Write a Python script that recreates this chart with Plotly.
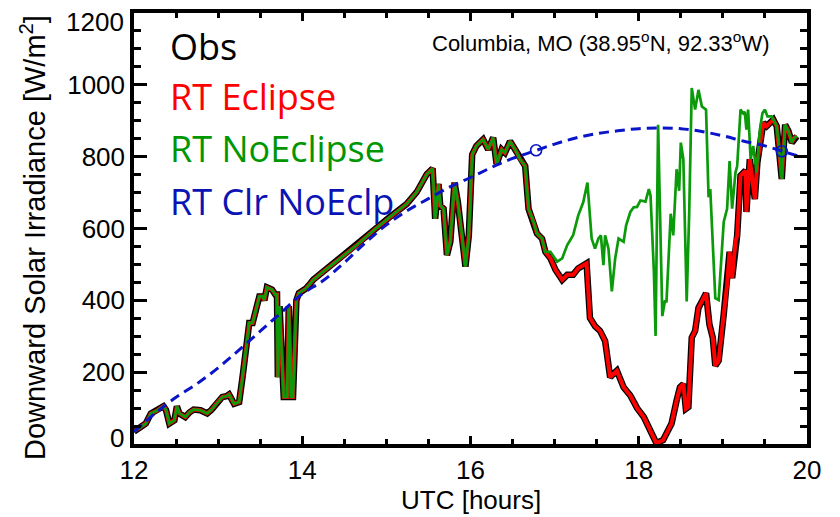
import plotly.graph_objects as go

# ---- data ----
# common part (Obs, RT Eclipse, RT NoEclipse coincide), UTC hours
t_pre = [12.00, 12.05, 12.10, 12.14, 12.20, 12.28, 12.35, 12.38, 12.42, 12.48, 12.51, 12.54,
         12.61, 12.66, 12.71, 12.79, 12.87, 12.92, 12.97, 13.05, 13.10, 13.13, 13.19, 13.25,
         13.29, 13.33, 13.37, 13.41, 13.45, 13.49, 13.53, 13.55, 13.58, 13.64, 13.68, 13.70,
         13.71, 13.73, 13.78, 13.82, 13.84, 13.87, 13.89, 13.93, 13.96, 14.04, 14.10, 14.13,
         14.25, 14.45, 14.65, 14.85, 15.04, 15.24, 15.36, 15.48, 15.55, 15.58, 15.62, 15.64,
         15.68, 15.72, 15.76, 15.81, 15.85, 15.90, 15.94, 15.98, 16.02, 16.07, 16.15, 16.21,
         16.27, 16.31, 16.37, 16.41, 16.47, 16.53, 16.59, 16.65, 16.69, 16.75, 16.79, 16.85,
         16.89]
v_pre = [35, 42, 50, 57, 85, 94, 105, 95, 57, 66, 105, 85,
         75, 88, 96, 94, 85, 95, 110, 131, 133, 138, 112, 117,
         186, 268, 337, 337, 374, 411, 411, 400, 436, 430, 416, 416,
         186, 384, 131, 131, 384, 131, 131, 400, 420, 432, 448, 457,
         480, 517, 554, 595, 632, 668, 701, 751, 767, 627, 724, 664,
         655, 526, 563, 728, 673, 581, 494, 581, 806, 830, 848, 820,
         853, 779, 820, 811, 843, 820, 793, 774, 655, 618, 586, 572,
         535]

# RT Eclipse (and Obs) after divergence
t_ecl = [16.95, 17.01, 17.09, 17.15, 17.22, 17.28, 17.38, 17.42, 17.48, 17.54, 17.60, 17.64,
         17.66, 17.74, 17.82, 17.90, 17.98, 18.06, 18.14, 18.21, 18.29, 18.39, 18.45, 18.49,
         18.53, 18.56, 18.59, 18.63, 18.67, 18.71, 18.77, 18.80, 18.84, 18.88, 18.91, 18.95,
         19.01, 19.05, 19.08, 19.11, 19.15, 19.17, 19.21, 19.27, 19.28, 19.32, 19.36, 19.38,
         19.41, 19.45, 19.48, 19.52, 19.60, 19.64, 19.67, 19.70, 19.74, 19.78, 19.82, 19.85,
         19.88]
v_ecl = [517, 485, 457, 471, 471, 489, 503, 351, 328, 315, 287, 223,
         186, 204, 158, 135, 100, 75, 35, 2, 11, 57, 121, 158,
         167, 98, 103, 296, 315, 379, 406, 420, 333, 296, 218, 232,
         361, 443, 535, 462, 563, 581, 747, 761, 646, 793, 719, 682,
         784, 839, 894, 885, 903, 885, 820, 738, 889, 871, 839, 853,
         857]

# RT NoEclipse after divergence
t_noe = [16.95, 17.03, 17.09, 17.15, 17.22, 17.28, 17.34, 17.39, 17.44, 17.48, 17.52, 17.55,
         17.58, 17.60, 17.64, 17.68, 17.72, 17.76, 17.82, 17.85, 17.90, 17.94, 17.98, 18.02,
         18.08, 18.12, 18.14, 18.18, 18.20, 18.23, 18.28, 18.31, 18.33, 18.38, 18.41, 18.45,
         18.48, 18.50, 18.53, 18.57, 18.60, 18.63, 18.67, 18.71, 18.75, 18.80, 18.83, 18.85,
         18.91, 18.95, 19.01, 19.05, 19.08, 19.11, 19.15, 19.17, 19.21, 19.24, 19.26, 19.28,
         19.30, 19.33, 19.36, 19.40, 19.44, 19.47, 19.50, 19.53, 19.58, 19.60, 19.64, 19.67,
         19.70, 19.74, 19.78, 19.82, 19.85, 19.88]
v_noe = [535, 508, 517, 554, 581, 636, 673, 728, 572, 544, 572, 581,
         498, 581, 544, 425, 517, 572, 563, 609, 646, 659, 660, 678,
         675, 710, 692, 480, 301, 889, 356, 397, 397, 641, 581, 765,
         705, 839, 793, 397, 646, 991, 931, 986, 940, 931, 687, 710,
         406, 401, 618, 655, 788, 655, 756, 774, 931, 921, 925, 875,
         931, 793, 830, 756, 875, 921, 931, 912, 912, 903, 885, 820,
         738, 889, 871, 839, 853, 857]

# RT clear-sky, no eclipse
t_clr = [12.00, 12.25, 12.50, 12.75, 13.00, 13.25, 13.50, 13.75, 14.00, 14.25, 14.50, 14.75,
         15.00, 15.25, 15.50, 15.75, 16.00, 16.25, 16.50, 16.75, 17.00, 17.25, 17.50, 17.75,
         18.00, 18.25, 18.50, 18.75, 19.00, 19.25, 19.50, 19.75, 19.92]
v_clr = [34, 85, 130, 168, 212, 262, 314, 366, 418, 455, 505, 560,
         610, 650, 683, 715, 742, 770, 795, 815, 835, 852, 864, 872,
         878, 880, 878, 870, 858, 843, 830, 812, 800]

# open circles on the clear-sky curve
t_circ = [16.78, 19.70]
v_circ = [818, 815]

x_ticks = [12, 14, 16, 18, 20]
y_ticks = [0, 200, 400, 600, 800, 1000, 1200]

legend_labels = ["Obs", "RT Eclipse", "RT NoEclipse", "RT Clr NoEclp"]
legend_colors = ["#000000", "#ff0000", "#009600", "#0a14b4"]
site_label = "Columbia, MO (38.95<sup>o</sup>N, 92.33<sup>o</sup>W)"

# ---- figure ----
fig = go.Figure()
fig.add_trace(go.Scatter(x=t_pre + t_ecl, y=v_pre + v_ecl, mode="lines",
                         line=dict(color="#000000", width=6.5), showlegend=False))
fig.add_trace(go.Scatter(x=t_pre + t_ecl, y=v_pre + v_ecl, mode="lines",
                         line=dict(color="#ff0000", width=4), showlegend=False))
fig.add_trace(go.Scatter(x=t_pre + t_noe, y=v_pre + v_noe, mode="lines",
                         line=dict(color="#0a9a0a", width=2.7), showlegend=False))
fig.add_trace(go.Scatter(x=t_clr, y=v_clr, mode="lines", line_shape="spline",
                         line=dict(color="#0a14c8", width=3, dash="10px,6px"), showlegend=False))
fig.add_trace(go.Scatter(x=t_circ, y=v_circ, mode="markers",
                         marker=dict(symbol="circle-open", size=11, color="#0a14c8",
                                     line=dict(width=1.6, color="#0a14c8")),
                         showlegend=False))

# plot-area pixel geometry
L, R, T, B = 134, 807, 9, 444
def px_x(p):
    return (p - L) / (R - L)
def px_y(p):
    return (B - p) / (B - T)

tick_font = dict(family="Liberation Sans", size=26, color="black")

legend_y = [43, 93, 146, 199]
for lab, col, yy in zip(legend_labels, legend_colors, legend_y):
    fig.add_annotation(text=lab, x=px_x(168), y=px_y(yy), xref="paper", yref="paper",
                       xanchor="left", yanchor="middle", showarrow=False,
                       font=dict(family="Open Sans", size=36, color=col))

fig.add_annotation(text=site_label, x=px_x(771), y=px_y(38), xref="paper", yref="paper",
                   xanchor="right", yanchor="middle", showarrow=False,
                   font=dict(family="Liberation Sans", size=22, color="black"))

fig.add_annotation(text="UTC [hours]", x=0.5, y=px_y(501), xref="paper", yref="paper",
                   xanchor="center", yanchor="middle", showarrow=False,
                   font=dict(family="Liberation Sans", size=26, color="black"))
fig.add_annotation(text="Downward Solar Irradiance [W/m<sup>2</sup>]", x=px_x(33), y=px_y(236),
                   xref="paper", yref="paper", xanchor="center", yanchor="middle",
                   textangle=-90, showarrow=False,
                   font=dict(family="Liberation Sans", size=29, color="black"))

# end labels of the y axis sit slightly inside the frame, as in the reference
y_ticktext = [str(v) for v in y_ticks]
y_ticktext[0] = ""
y_ticktext[-1] = ""
for val, ypx in ((y_ticks[0], 438), (y_ticks[-1], 18)):
    fig.add_annotation(text=str(val), x=px_x(126), y=px_y(ypx), xref="paper", yref="paper",
                       xanchor="right", yanchor="middle", showarrow=False, font=tick_font)

axis_common = dict(showline=True, linewidth=3.5, linecolor="black", mirror="allticks",
                   ticks="inside", tickcolor="black", showgrid=False, zeroline=False,
                   tickfont=tick_font)
fig.update_xaxes(range=[12, 20], tickmode="array", tickvals=x_ticks,
                 ticktext=[str(v) for v in x_ticks],
                 ticklen=8, tickwidth=2.5,
                 minor=dict(dtick=0.5, tick0=12, ticks="inside", ticklen=5, tickwidth=2.5,
                            tickcolor="black", showgrid=False),
                 **axis_common)
fig.update_yaxes(range=[0, 1200], tickmode="array", tickvals=y_ticks, ticktext=y_ticktext,
                 ticklen=13, tickwidth=2.5,
                 minor=dict(dtick=50, tick0=0, ticks="inside", ticklen=7, tickwidth=2.5,
                            tickcolor="black", showgrid=False),
                 **axis_common)

fig.update_layout(width=840, height=517, margin=dict(l=L, r=840 - R, t=T, b=517 - B),
                  plot_bgcolor="white", paper_bgcolor="white", showlegend=False)

fig.write_html("out.html")
